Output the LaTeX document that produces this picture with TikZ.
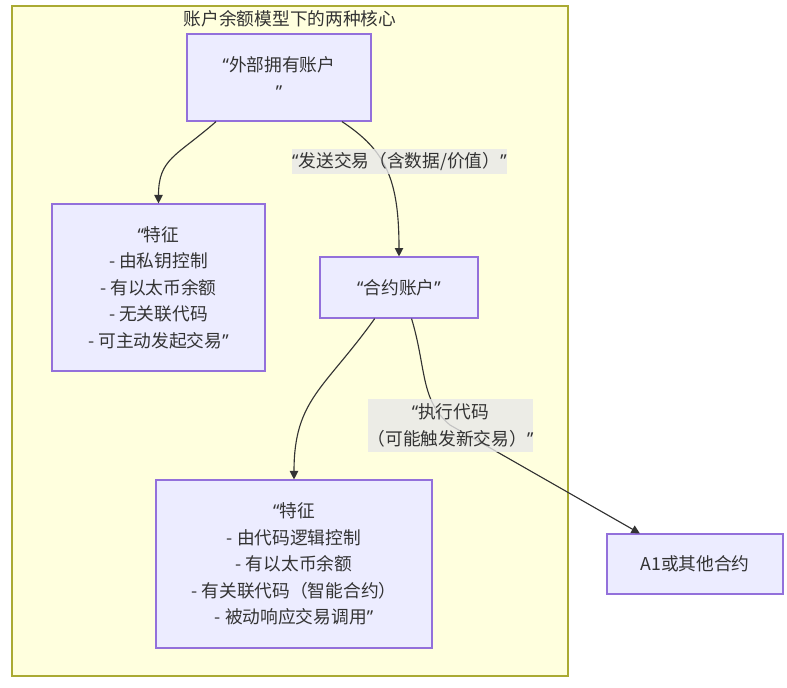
\documentclass[tikz,border=0pt]{standalone}
\usepackage{fontspec}
\setmainfont{Noto Sans CJK SC}
\newfontfamily\latinq{Noto Sans}
\newcommand\qopen{{\latinq “}}
\newcommand\qclose{{\latinq ”}}
\usetikzlibrary{arrows.meta}
\definecolor{clusterfill}{HTML}{FFFFDE}
\definecolor{clusterline}{HTML}{AAAA33}
\definecolor{boxfill}{HTML}{ECECFF}
\definecolor{boxline}{HTML}{9370DB}
\definecolor{ink}{HTML}{333333}
\definecolor{tagfill}{HTML}{E8E8E8}
\tikzset{
  acct/.style={draw=boxline, fill=boxfill, line width=0.8pt, text=ink,
    align=center, font=\fontsize{12.6pt}{18.8pt}\selectfont},
  tag/.style={fill=tagfill, fill opacity=0.8, text opacity=1, text=ink,
    align=center, inner sep=0pt, font=\fontsize{12.6pt}{18.8pt}\selectfont},
  link/.style={draw=ink, line width=0.8pt, -{Triangle[length=6pt,width=6pt]}}
}
\begin{document}
\begin{tikzpicture}[x=0.025cm, y=-0.025cm]
    \useasboundingbox (0,0) rectangle (787,687);
    % Recuadro del grupo
    \draw[clusterline, fill=clusterfill, line width=0.8pt] (12,6) rectangle (568,676);
    \node[text=ink, font=\fontsize{12.6pt}{14pt}\selectfont] (title) at (290,19) {账户余额模型下的两种核心};
    % Cajas
    \node[acct, minimum width=4.6cm, minimum height=2.175cm] (eoa) at (279,77.5) {\qopen 外部拥有账户\\\qclose};
    \node[acct, minimum width=5.325cm, minimum height=4.175cm] (eoaf) at (158.5,287.5)
        {\qopen 特征\\- 由私钥控制\\- 有以太币余额\\- 无关联代码\\- 可主动发起交易\qclose};
    \node[acct, minimum width=3.95cm, minimum height=1.525cm] (ca) at (399,287.5) {\qopen 合约账户\qclose};
    \node[acct, minimum width=6.9cm, minimum height=4.2cm] (caf) at (294,564)
        {\qopen 特征\\- 由代码逻辑控制\\- 有以太币余额\\- 有关联代码（智能合约）\\- 被动响应交易调用\qclose};
    \node[acct, minimum width=4.4cm, minimum height=1.5cm] (other) at (695,564) {A1或其他合约};
    % Flechas
    \draw[link] (eoa.215) .. controls +(-40,35) and +(0,-45) .. (eoaf.north);
    \draw[link] (eoa.-35) .. controls +(44,29) and +(0,-77) .. (ca.north);
    \draw[link] (ca.232) .. controls +(-50,70) and +(0,-80) .. (caf.north);
    \draw[link] (ca.-68) .. controls +(15,50) and +(-30,-25) .. (450,425) -- (other.151);
    % Etiquetas
    \node[tag, minimum width=5.375cm, minimum height=0.625cm] (send) at (399.5,161.5) {\qopen 发送交易（含数据/价值）\qclose};
    \node[tag, minimum width=4.025cm, minimum height=1.325cm] (exec) at (450.5,425.5) {\qopen 执行代码\\（可能触发新交易）\qclose};
\end{tikzpicture}
\end{document}
